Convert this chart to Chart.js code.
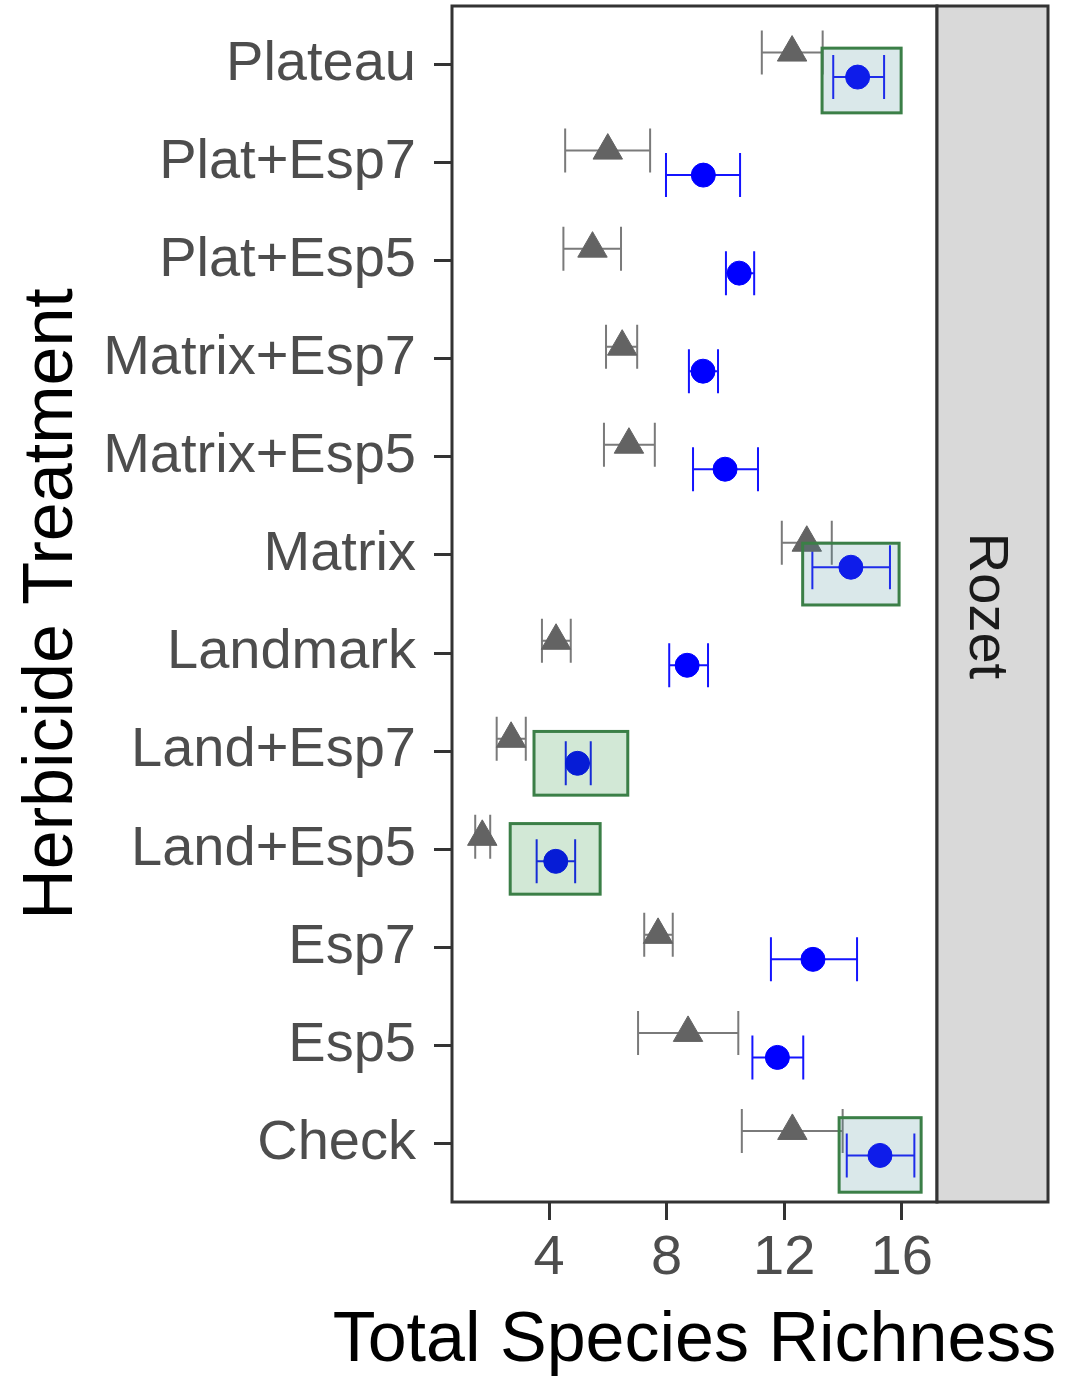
<!DOCTYPE html>
<html>
<head>
<meta charset="utf-8">
<script src="https://cdn.jsdelivr.net/npm/chart.js@4/dist/chart.umd.min.js"></script>
<style>
html,body{margin:0;padding:0;background:#fff;}
#wrap{width:1076px;height:1376px;}
</style>
</head>
<body>
<div id="wrap"><canvas id="c" width="1076" height="1376"></canvas></div>
<script>
const categories = ['Plateau','Plat+Esp7','Plat+Esp5','Matrix+Esp7','Matrix+Esp5','Matrix','Landmark','Land+Esp7','Land+Esp5','Esp7','Esp5','Check'];
const triMean = [12.27, 6.00, 5.48, 6.49, 6.72, 12.77, 4.24, 2.71, 1.73, 7.71, 8.73, 12.28];
const triLo   = [11.24, 4.55, 4.49, 5.94, 5.87, 11.92, 3.76, 2.22, 1.49, 7.24, 7.03, 10.56];
const triHi   = [13.31, 7.44, 6.45, 7.00, 7.60, 13.62, 4.74, 3.21, 2.00, 8.21, 10.44, 13.99];
const circMean = [14.50, 9.25, 10.47, 9.24, 9.99, 14.27, 8.70, 4.97, 4.23, 12.98, 11.77, 15.26];
const circLo   = [13.67, 7.98, 10.02, 8.76, 8.90, 12.96, 8.09, 4.57, 3.58, 11.55, 10.92, 14.13];
const circHi   = [15.40, 10.50, 10.98, 9.75, 11.11, 15.60, 9.41, 5.42, 4.89, 14.48, 12.65, 16.43];
const xTicks = [4, 8, 12, 16];
const facetLabel = 'Rozet';
const xTitle = 'Total Species Richness';
const yTitle = 'Herbicide Treatment';
// highlighted boxes (data units)
const boxCats = ['Plateau','Matrix','Land+Esp7','Land+Esp5','Check'];
const boxXmin = [13.29, 12.63, 3.49, 2.68, 13.87];
const boxXmax = [15.98, 15.91, 6.68, 5.74, 16.66];
const boxYlo  = [-0.17, -0.12, -0.20, -0.26, -0.26];
const boxYhi  = [0.49, 0.51, 0.45, 0.46, 0.50];
const boxTone = ['blue','blue','green','green','blue'];

const DODGE = 0.125;
const FONT = '"Liberation Sans", Arial, sans-serif';

const triData = categories.map((c,i)=>({x: triMean[i], y: i - DODGE}));
const circData = categories.map((c,i)=>({x: circMean[i], y: i + DODGE}));

const decor = {
  id: 'decor',
  beforeDatasetsDraw(chart) {
    const {ctx, scales:{x, y}} = chart;
    ctx.save();
    const cap = 22;
    const drawBars = (lo, hi, off, color) => {
      ctx.strokeStyle = color; ctx.lineWidth = 2;
      categories.forEach((c,i)=>{
        const py = y.getPixelForValue(i + off);
        const x1 = x.getPixelForValue(lo[i]), x2 = x.getPixelForValue(hi[i]);
        ctx.beginPath();
        ctx.moveTo(x1, py); ctx.lineTo(x2, py);
        ctx.moveTo(x1, py-cap); ctx.lineTo(x1, py+cap);
        ctx.moveTo(x2, py-cap); ctx.lineTo(x2, py+cap);
        ctx.stroke();
      });
    };
    drawBars(triLo, triHi, -DODGE, '#7a7a7a');
    drawBars(circLo, circHi, DODGE, '#1414ff');
    ctx.restore();
  },
  afterDatasetsDraw(chart) {
    const {ctx, chartArea:a, scales:{x, y}} = chart;
    ctx.save();
    boxCats.forEach((c,k)=>{
      const i = categories.indexOf(c);
      const x1 = x.getPixelForValue(boxXmin[k]), x2 = x.getPixelForValue(boxXmax[k]);
      const y1 = y.getPixelForValue(i + boxYlo[k]), y2 = y.getPixelForValue(i + boxYhi[k]);
      ctx.fillStyle = boxTone[k] === 'blue' ? 'rgba(70,140,150,0.2)' : 'rgba(30,140,50,0.2)';
      ctx.fillRect(x1, y1, x2-x1, y2-y1);
      ctx.strokeStyle = '#3b7f47'; ctx.lineWidth = 3;
      ctx.strokeRect(x1, y1, x2-x1, y2-y1);
    });
    // panel border
    ctx.strokeStyle = '#333333'; ctx.lineWidth = 3;
    ctx.strokeRect(a.left, a.top, a.right-a.left, a.bottom-a.top);
    // strip
    const sx = a.right, sw = 111;
    ctx.fillStyle = '#d9d9d9';
    ctx.fillRect(sx, a.top, sw, a.bottom-a.top);
    ctx.strokeRect(sx, a.top, sw, a.bottom-a.top);
    ctx.fillStyle = '#1a1a1a';
    ctx.font = '56px ' + FONT;
    ctx.textAlign = 'center'; ctx.textBaseline = 'alphabetic';
    ctx.translate(sx + 33, (a.top + a.bottom)/2 + 2);
    ctx.rotate(Math.PI/2);
    ctx.fillText(facetLabel, 0, 0);
    ctx.restore();
    // axis titles
    ctx.save();
    ctx.fillStyle = '#000000';
    ctx.font = '70px ' + FONT;
    ctx.textAlign = 'center'; ctx.textBaseline = 'alphabetic';
    ctx.fillText(xTitle, (a.left + a.right)/2, 1361);
    ctx.translate(72, (a.top + a.bottom)/2);
    ctx.rotate(-Math.PI/2);
    ctx.fillText(yTitle, 0, 0);
    ctx.restore();
  }
};

new Chart(document.getElementById('c'), {
  type: 'scatter',
  data: {
    datasets: [
      {data: triData, pointStyle: 'triangle', pointRadius: 17, backgroundColor: '#636363', borderColor: '#636363', borderWidth: 1},
      {data: circData, pointStyle: 'circle', pointRadius: 12, backgroundColor: '#0000ff', borderColor: '#0000ff', borderWidth: 1}
    ]
  },
  options: {
    responsive: false,
    animation: false,
    events: [],
    layout: {autoPadding: false, padding: {left: 0, top: 6, right: 139, bottom: 0}},
    plugins: {legend: {display: false}, tooltip: {enabled: false}},
    scales: {
      x: {
        type: 'linear', min: 0.7, max: 17.2,
        afterBuildTicks: s => { s.ticks = xTicks.map(v=>({value: v})); },
        afterFit: s => { s.height = 174; s.paddingLeft = 0; s.paddingRight = 0; },
        grid: {drawOnChartArea: false, drawTicks: true, tickLength: 18, color: '#333333', lineWidth: 3},
        border: {display: false},
        ticks: {color: '#4d4d4d', font: {size: 56, family: FONT}, padding: 5, maxRotation: 0, autoSkip: false, callback: v => String(v)}
      },
      y: {
        type: 'linear', min: -0.6, max: 11.6, reverse: true,
        afterBuildTicks: s => { s.ticks = categories.map((c,i)=>({value: i})); },
        afterFit: s => { s.width = 452; s.paddingTop = 0; s.paddingBottom = 0; },
        grid: {drawOnChartArea: false, drawTicks: true, tickLength: 18, color: '#333333', lineWidth: 3},
        border: {display: false},
        ticks: {color: '#4d4d4d', font: {size: 56, family: FONT}, padding: 18, autoSkip: false, callback: (v) => categories[Math.round(v)]}
      }
    }
  },
  plugins: [decor]
});
</script>
</body>
</html>
